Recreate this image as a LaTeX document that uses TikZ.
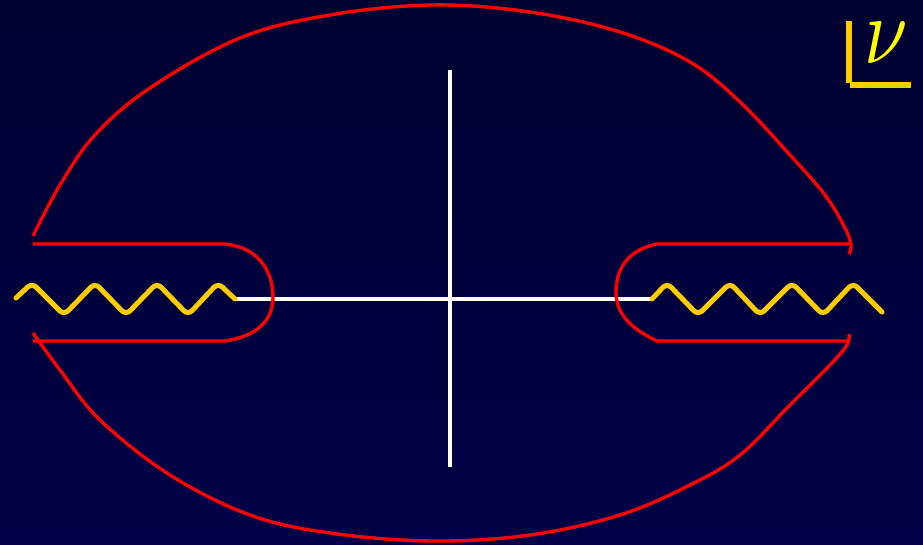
\documentclass[tikz,border=0pt]{standalone}
\begin{document}
\begin{tikzpicture}[x=1pt,y=-1pt,
  contour/.style={draw=red, line width=3.4pt},
  wave/.style={draw=wavey, line width=5pt, rounded corners=6pt, line cap=round},
  axis/.style={draw=white, line width=4pt},
  brk/.style={draw=wavey, line width=5.5pt}]
\definecolor{wavey}{RGB}{255,204,0}
\definecolor{nuy}{RGB}{255,255,0}
\definecolor{bgtop}{RGB}{0,0,48}
\definecolor{bgbot}{RGB}{0,0,72}
\shade[top color=bgtop, bottom color=bgbot] (0,0) rectangle (923,545);
\useasboundingbox (0,0) rectangle (923,545);
% axes
\coordinate (L) at (235,299); \coordinate (R) at (652,299);
\coordinate (T) at (450,70); \coordinate (B) at (450,467);
\draw[axis] (L) -- (R);
\draw[axis] (T) -- (B);
% waves
\draw[wave] (16,298) -- (32,283) -- (64,315) -- (95,283) -- (126,315) -- (157,283) -- (188,315) -- (218,283) -- (L);
\draw[wave] (R) -- (667,283) -- (698,315) -- (730,283) -- (760,315) -- (792,283) -- (823,315) -- (853,283) -- (882,312);
% contour
\draw[contour] plot[smooth, tension=0.6] coordinates {(33,236) (60,185) (95,135) (150,88) (240,38) (330,15) (432,5) (530,12) (620,32) (690,62) (740,102) (790,155) (825,195) (845,228) (851,245) (849,254)};
\draw[contour] plot[smooth, tension=0.6] coordinates {(849,334) (847,345) (830,365) (790,405) (740,455) (690,485) (620,515) (530,535) (432,541) (330,533) (250,515) (170,475) (100,420) (60,370) (33,333)};
\draw[contour] (33,244) -- (225,244) .. controls (262,248) and (273,275) .. (273,297) .. controls (273,320) and (258,336) .. (225,341) -- (33,341);
\draw[contour] (850,244) -- (657,244) .. controls (627,250) and (616,270) .. (616,292) .. controls (616,316) and (634,330) .. (657,341) -- (849,341);
% nu and bracket
\draw[brk] (849,21) -- (849,83);
\draw[brk] (850,85) -- (911,85);
\node[text=nuy, inner sep=0pt, xscale=7.8, yscale=9.5] (nu) at (886,43) {$\nu$};
\end{tikzpicture}
\end{document}
